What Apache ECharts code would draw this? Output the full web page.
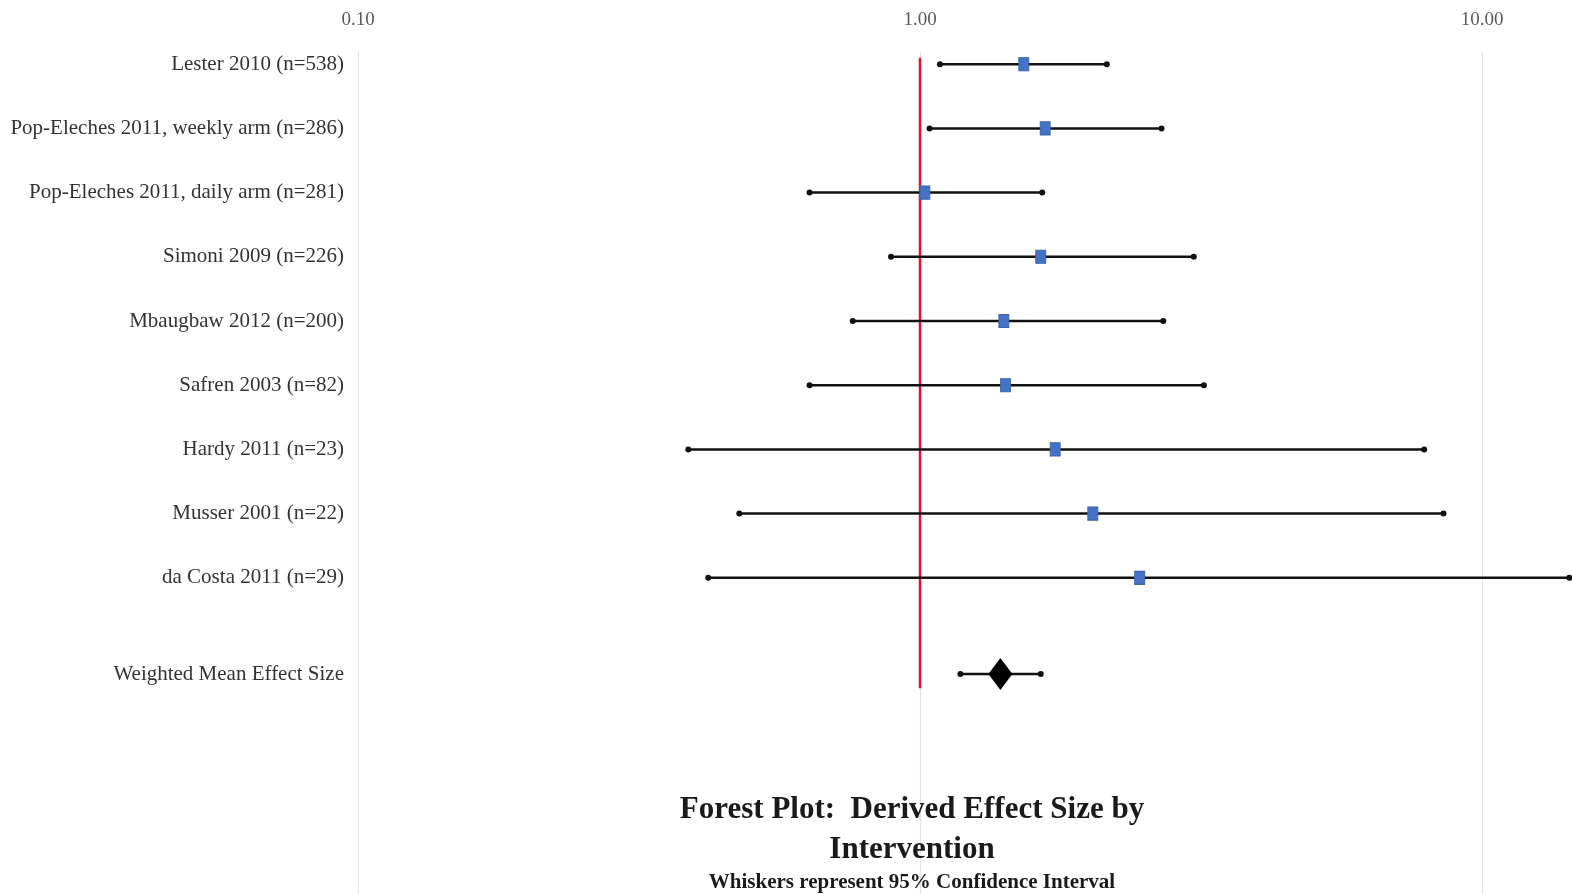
<!DOCTYPE html>
<html>
<head>
<meta charset="utf-8">
<script src="https://cdn.jsdelivr.net/npm/echarts@6/dist/echarts.min.js"></script>
<style>
  html, body { margin: 0; padding: 0; background: #fff; }
  #chart { width: 1572px; height: 894px; }
</style>
</head>
<body>
<div id="chart"></div>
<script>
// study names, top to bottom
const studies = [
  'Lester 2010 (n=538)',
  'Pop-Eleches 2011, weekly arm (n=286)',
  'Pop-Eleches 2011, daily arm (n=281)',
  'Simoni 2009 (n=226)',
  'Mbaugbaw 2012 (n=200)',
  'Safren 2003 (n=82)',
  'Hardy 2011 (n=23)',
  'Musser 2001 (n=22)',
  'da Costa 2011 (n=29)'
]
const effect = [1.53, 1.67, 1.02, 1.64, 1.41, 1.42, 1.74, 2.03, 2.46]
const ciLow  = [1.085, 1.04, 0.636, 0.888, 0.759, 0.636, 0.387, 0.477, 0.42]
const ciHigh = [2.15, 2.69, 1.65, 3.07, 2.71, 3.2, 7.89, 8.54, 14.3]
const rowPos = [1, 2, 3, 4, 5, 6, 7, 8, 9]

const meanLabel = 'Weighted Mean Effect Size'
const meanEffect = 1.39
const meanLow = 1.18
const meanHigh = 1.64
const meanPos = 10.5

// line of no effect
const refLine = [[1, 0.9], [1, 10.72]]

const xTicks = [0.1, 1, 10, 100]

const chart = echarts.init(document.getElementById('chart'))

const labelFor = v => {
  if (v === meanPos) return meanLabel
  const i = rowPos.indexOf(v)
  return i >= 0 ? studies[i] : ''
}

const whiskerData = studies.map((s, i) => [ciLow[i], ciHigh[i], rowPos[i]])
whiskerData.push([meanLow, meanHigh, meanPos])

const renderWhisker = (params, api) => {
  const a = api.coord([api.value(0), api.value(2)])
  const b = api.coord([api.value(1), api.value(2)])
  const style = { stroke: '#111', lineWidth: 2.5 }
  return {
    type: 'group',
    children: [
      { type: 'line', shape: { x1: a[0], y1: a[1], x2: b[0], y2: b[1] }, style },
      { type: 'circle', shape: { cx: a[0], cy: a[1], r: 3 }, style: { fill: '#111' } },
      { type: 'circle', shape: { cx: b[0], cy: b[1], r: 3 }, style: { fill: '#111' } }
    ]
  }
}

const option = {
  backgroundColor: '#fff',
  animation: false,
  textStyle: { fontFamily: 'Liberation Serif' },
  title: [{
    text: 'Forest Plot:  Derived Effect Size by\nIntervention',
    left: 907,
    top: 785,
    textAlign: 'center',
    textStyle: {
      fontFamily: 'Liberation Serif',
      fontWeight: 'bold',
      fontSize: 31,
      lineHeight: 40,
      color: '#1a1a1a'
    }
  }, {
    text: 'Whiskers represent 95% Confidence Interval',
    left: 907,
    top: 867,
    textAlign: 'center',
    textStyle: {
      fontFamily: 'Liberation Serif',
      fontWeight: 'bold',
      fontSize: 21,
      color: '#1a1a1a'
    }
  }],
  grid: {
    left: 358,
    top: 52,
    right: -472,
    bottom: 0,
    containLabel: false,
    outerBoundsMode: 'none'
  },
  xAxis: {
    type: 'log',
    logBase: 10,
    min: 0.1,
    max: 100,
    position: 'top',
    axisLine: { show: false },
    axisTick: { show: false },
    splitLine: { show: true, lineStyle: { color: '#e3e3e3', width: 1.2 } },
    axisLabel: {
      margin: 22,
      fontFamily: 'Liberation Serif',
      fontSize: 19,
      color: '#595959',
      formatter: v => xTicks.includes(+v) ? (+v).toFixed(2) : ''
    }
  },
  yAxis: {
    type: 'value',
    inverse: true,
    min: 0.81,
    max: 13.925,
    axisLine: { show: false },
    axisTick: { show: false },
    splitLine: { show: false },
    axisLabel: {
      customValues: rowPos.concat([meanPos]),
      margin: 14,
      fontFamily: 'Liberation Serif',
      fontSize: 21,
      color: '#333',
      formatter: v => labelFor(v)
    }
  },
  series: [
    {
      type: 'line',
      data: refLine,
      symbol: 'none',
      lineStyle: { color: '#e3122a', width: 2.5 },
      z: 1
    },
    {
      type: 'custom',
      renderItem: renderWhisker,
      data: whiskerData,
      encode: { x: [0, 1], y: 2 },
      z: 2
    },
    {
      type: 'scatter',
      data: effect.map((v, i) => [v, rowPos[i]]),
      symbol: 'rect',
      symbolSize: [10, 13],
      itemStyle: { color: '#4472c4', borderColor: '#3a62ad', borderWidth: 1, opacity: 1 },
      z: 3
    },
    {
      type: 'scatter',
      data: [[meanEffect, meanPos]],
      symbol: 'diamond',
      symbolSize: [24, 32],
      itemStyle: { color: '#000', opacity: 1 },
      z: 3
    }
  ]
}

chart.setOption(option)
</script>
</body>
</html>
